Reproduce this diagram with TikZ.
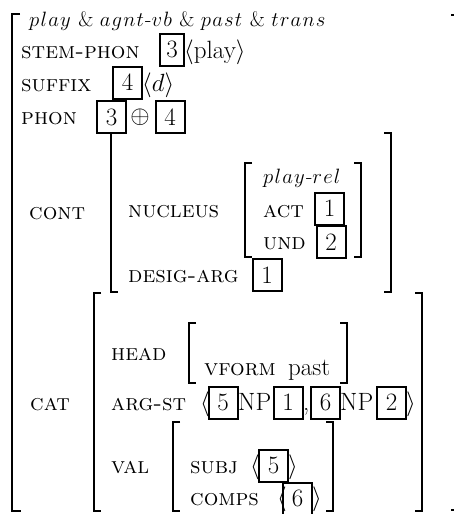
\documentclass[tikz,border=0pt]{standalone}
\usepackage{tikz}
\usetikzlibrary{positioning}

% letter-spaced italic sort names
\def\ispread#1{\ifx#1\relax\else#1\kern1.2pt\expandafter\ispread\fi}

\begin{document}
\begin{tikzpicture}[x=1pt, y=-1pt,
  attr/.style={anchor=base west, inner sep=0pt, font=\fontsize{23}{25}\selectfont\scshape},
  val/.style={anchor=base west, inner sep=0pt, font=\fontsize{25}{27}\selectfont},
  typ/.style={anchor=base west, inner sep=0pt, font=\fontsize{21}{23}\selectfont},
  tag/.style={draw, line width=2pt, minimum width=29pt, minimum height=32pt,
              inner sep=0pt, font=\fontsize{25}{27}\selectfont},
  brk/.style={line width=1.3pt},
]
  \useasboundingbox (0,0) rectangle (455,514);

  % outer matrix
  \draw[brk] (20,14) -- (12,14) -- (12,511) -- (21,511);
  \draw[brk] (451,15) -- (454,15);
  \draw[brk] (451,510) -- (454,510);
  \node[typ] (sort) at (29,27) {$\ispread play\relax$\ \&\ $\ispread agnt\relax$-$\ispread vb\relax$\ \&\
                                $\ispread past\relax$\ \&\ $\ispread trans\relax$};

  % phonology
  \node[attr] (stem) at (21,58) {stem-phon};
  \node[tag, minimum width=24pt] (t3a) at (172,49.5) {3};
  \node[val] (stemv) at (184,58) {$\langle$play$\rangle$};
  \node[attr] (suffix) at (21,91) {suffix};
  \node[tag] (t4a) at (127.5,82.5) {4};
  \node[val] (suffixv) at (142,91) {$\langle d\rangle$};
  \node[attr] (phon) at (21,124) {phon};
  \node[tag] (t3b) at (111.5,117) {3};
  \node[val, anchor=center] (plus) at (140,117) {$\oplus$};
  \node[tag] (t4b) at (170,117) {4};

  % inner brackets: left x / right x / top / bottom
  \foreach \xl/\xr/\yt/\yb in {111/391/133/292, 245/361/163/257,
                               94/422/293/511, 189/347/323/383, 173/333/422/511}{
    \draw[brk] (\xl+7,\yt) -- (\xl,\yt) -- (\xl,\yb) -- (\xl+7,\yb);
    \draw[brk] (\xr-7,\yt) -- (\xr,\yt) -- (\xr,\yb) -- (\xr-7,\yb);
  }

  % content
  \node[attr] (cont) at (29,219) {cont};
  \node[attr] (nucleus) at (128,217) {nucleus};
  \node[typ] (rel) at (263,183) {$\ispread play\relax$-$\ispread rel\relax$};
  \node[attr] (act) at (263,217) {act};
  \node[tag] (t1a) at (329.5,208.5) {1};
  \node[attr] (und) at (263,249) {und};
  \node[tag] (t2a) at (331,242) {2};
  \node[attr] (desig) at (128,282) {desig-arg};
  \node[tag] (t1b) at (267,275) {1};

  % category
  \node[attr] (cat) at (30,410) {cat};
  \node[attr] (head) at (111,360) {head};
  \node[attr] (vform) at (204,375) {vform};
  \node[val] (past) at (288,375) {past};
  \node[attr] (argst) at (111,410) {arg-st};
  \node[val] (la1) at (200,410) {$\langle$};
  \node[tag] (t5a) at (223,402.5) {5};
  \node[val] (np1) at (238,410) {NP};
  \node[tag] (t1c) at (288,402.5) {1};
  \node[val] (comma) at (303,410) {,};
  \node[tag] (t6a) at (325.5,402.5) {6};
  \node[val] (np2) at (340,410) {NP};
  \node[tag] (t2b) at (391.5,402.5) {2};
  \node[val] (ra1) at (406,410) {$\rangle$};
  \node[attr] (valence) at (111,473) {val};
  \node[attr] (subj) at (190,473) {subj};
  \node[val] (la2) at (250,473) {$\langle$};
  \node[tag] (t5b) at (273.5,465.5) {5};
  \node[val] (ra2) at (288,473) {$\rangle$};
  \node[attr] (comps) at (190,505) {comps};
  \node[val] (la3) at (277,505) {$\langle$};
  \node[tag] (t6b) at (297.5,498.5) {6};
  \node[val] (ra3) at (312,505) {$\rangle$};
\end{tikzpicture}
\end{document}
